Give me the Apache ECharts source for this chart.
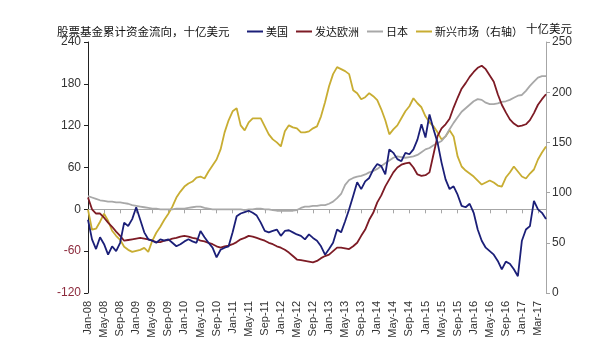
<!DOCTYPE html>
<html>
<head>
<meta charset="utf-8">
<script src="https://cdn.jsdelivr.net/npm/echarts@6/dist/echarts.min.js"></script>
<style>
html,body{margin:0;padding:0;background:#fff;}
#chart{width:600px;height:357px;}
</style>
</head>
<body>
<div id="chart"></div>
<script>
// Tick labels shown on the x axis (every 4th monthly category)
const tickLabels = ['Jan-08','May-08','Sep-08','Jan-09','May-09','Sep-09','Jan-10','May-10','Sep-10',
  'Jan-11','May-11','Sep-11','Jan-12','May-12','Sep-12','Jan-13','May-13','Sep-13',
  'Jan-14','May-14','Sep-14','Jan-15','May-15','Sep-15','Jan-16','May-16','Sep-16','Jan-17','Mar-17'];

const seriesNames = ['美国', '发达欧洲', '日本', '新兴市场（右轴）'];

// 美国 (left axis, bn USD), monthly from Jan-08
const usValues = [-15,-43,-57,-40,-50,-65,-53,-60,-48,-19,-24,-14,3,-15,-33,-43,-45,-48,-43,-45,
  -43,-48,-53,-50,-46,-43,-46,-48,-31,-40,-48,-55,-69,-58,-55,-53,-33,-10,-6,-4,
  -2,-5,-9,-19,-31,-33,-31,-29,-38,-31,-30,-33,-36,-38,-43,-36,-41,-45,-53,-65,
  -57,-48,-29,-33,-17,0,19,39,29,40,45,57,65,62,50,86,81,72,69,81,
  79,86,100,122,103,136,115,96,67,43,29,33,21,5,3,8,-5,-29,-45,-55,
  -60,-65,-74,-86,-75,-78,-86,-96,-45,-29,-24,12,0,-5,-14];

// 发达欧洲 (left axis)
const europeValues = [17,0,-6,-6,-12,-19,-25,-32,-38,-45,-44,-43,-42,-41,-42,-43,-45,-47,-47,-45,
  -44,-42,-41,-39,-38,-39,-41,-42,-45,-46,-48,-50,-53,-55,-53,-52,-50,-47,-43,-41,
  -38,-39,-41,-43,-45,-48,-50,-53,-55,-58,-62,-67,-72,-73,-74,-75,-76,-74,-70,-67,
  -65,-60,-55,-55,-56,-57,-53,-48,-38,-29,-15,-5,10,20,33,43,53,60,64,66,
  67,60,50,48,49,53,79,105,116,122,130,146,160,173,181,190,197,203,206,201,
  192,183,165,150,139,129,123,119,120,122,128,138,150,158,165];

// 日本 (left axis)
const japanValues = [19,17,15,13,12,11,11,10,10,9,8,6,5,4,3,2,1,1,0,0,
  0,0,1,1,1,2,3,4,4,2,1,0,0,0,0,0,0,0,0,-1,
  0,0,1,1,0,0,-1,-2,-2,-2,-2,-2,-1,2,4,4,5,5,6,6,
  8,11,16,22,35,42,45,47,48,50,53,55,58,62,66,70,74,76,75,74,
  75,76,78,82,86,88,92,95,98,105,115,124,132,140,145,150,155,158,157,153,
  151,151,152,154,155,157,160,163,164,170,177,183,189,191,191];

// 新兴市场 (right axis)
const emValues = [83,63,64,71,79,72,62,57,53,46,43,41,42,43,45,41,52,60,66,73,
  79,86,95,101,106,109,111,115,116,114,121,127,133,143,160,172,181,184,167,162,
  170,174,174,174,166,158,153,150,146,161,167,165,164,160,160,161,164,166,176,190,
  206,218,225,223,221,218,202,199,193,195,199,196,192,183,172,158,163,167,174,181,
  186,194,189,185,176,170,166,160,153,156,162,156,136,126,122,119,116,112,108,110,
  112,110,107,106,115,120,126,121,116,114,119,123,133,140,146];

const colors = ['#1b1f78', '#7d1b25', '#a8a8a8', '#c8ad32'];

// monthly categories Jan-08 .. Jul-17
const categories = [];
for (let i = 0; i < usValues.length; i++) {
  const y = 2008 + Math.floor(i / 12), m = (i % 12) + 1;
  categories.push(y + '-' + (m < 10 ? '0' + m : m));
}

const chart = echarts.init(document.getElementById('chart'));
const fontCJK = '"Noto Sans CJK SC", "Noto Sans", sans-serif';
const fontLat = '"Liberation Sans", Arial, sans-serif';

chart.setOption({
  animation: false,
  color: colors,
  title: {
    text: '股票基金累计资金流向，十亿美元',
    left: 52, top: 21,
    textStyle: { fontSize: 11.5, fontWeight: 'normal', color: '#111', fontFamily: fontCJK }
  },
  legend: {
    data: seriesNames,
    left: 242, top: 21,
    itemWidth: 16, itemHeight: 2, itemGap: 8,
    icon: 'rect',
    textStyle: { fontSize: 11, color: '#111', fontFamily: fontCJK, padding: [0, 0, 0, -2] }
  },
  grid: { left: 88, right: 54, top: 42, bottom: 64, containLabel: false },
  xAxis: [
    {
      type: 'category', data: categories, boundaryGap: false,
      axisLine: { onZero: true, lineStyle: { color: '#a6a6a6', width: 1 } },
      axisTick: { show: true, interval: 3, length: 4, lineStyle: { color: '#a6a6a6' } },
      axisLabel: { show: false },
      splitLine: { show: false }
    },
    {
      type: 'category', data: categories, boundaryGap: false, position: 'bottom',
      axisLine: { show: false, onZero: false },
      axisTick: { show: false },
      axisLabel: {
        interval: 3, rotate: 90, margin: 8, fontSize: 11, color: '#333', fontFamily: fontLat,
        formatter: function (v, i) { return tickLabels[i / 4] || ''; }
      },
      splitLine: { show: false }
    }
  ],
  yAxis: [
    {
      type: 'value', position: 'left', min: -120, max: 240, interval: 60,
      axisLine: { show: true, lineStyle: { color: '#222', width: 1 } },
      axisTick: { show: true, length: 4, lineStyle: { color: '#222' } },
      axisLabel: {
        fontSize: 12, fontFamily: fontLat, margin: 7,
        color: function (v) { return Number(v) < 0 ? '#8c2a3c' : '#333'; }
      },
      splitLine: { show: false }
    },
    {
      type: 'value', position: 'right', min: 0, max: 250, interval: 50,
      name: '十亿美元', nameLocation: 'end', nameGap: 8,
      nameTextStyle: { fontSize: 11.5, color: '#111', fontFamily: fontCJK, align: 'center', padding: [0, 0, 0, 6] },
      axisLine: { show: true, lineStyle: { color: '#a6a6a6', width: 1 } },
      axisTick: { show: true, length: 4, lineStyle: { color: '#a6a6a6' } },
      axisLabel: { fontSize: 12, color: '#333', fontFamily: fontLat, margin: 6 },
      splitLine: { show: false }
    }
  ],
  series: [
    { name: seriesNames[3], type: 'line', data: emValues, yAxisIndex: 1, xAxisIndex: 0, showSymbol: false, symbol: 'none', lineStyle: { width: 1.8, color: colors[3] }, itemStyle: { color: colors[3] } },
    { name: seriesNames[2], type: 'line', data: japanValues, yAxisIndex: 0, xAxisIndex: 0, showSymbol: false, symbol: 'none', lineStyle: { width: 1.8, color: colors[2] }, itemStyle: { color: colors[2] } },
    { name: seriesNames[1], type: 'line', data: europeValues, yAxisIndex: 0, xAxisIndex: 0, showSymbol: false, symbol: 'none', lineStyle: { width: 1.8, color: colors[1] }, itemStyle: { color: colors[1] } },
    { name: seriesNames[0], type: 'line', data: usValues, yAxisIndex: 0, xAxisIndex: 0, showSymbol: false, symbol: 'none', lineStyle: { width: 1.8, color: colors[0] }, itemStyle: { color: colors[0] } }
  ]
});
</script>
</body>
</html>
